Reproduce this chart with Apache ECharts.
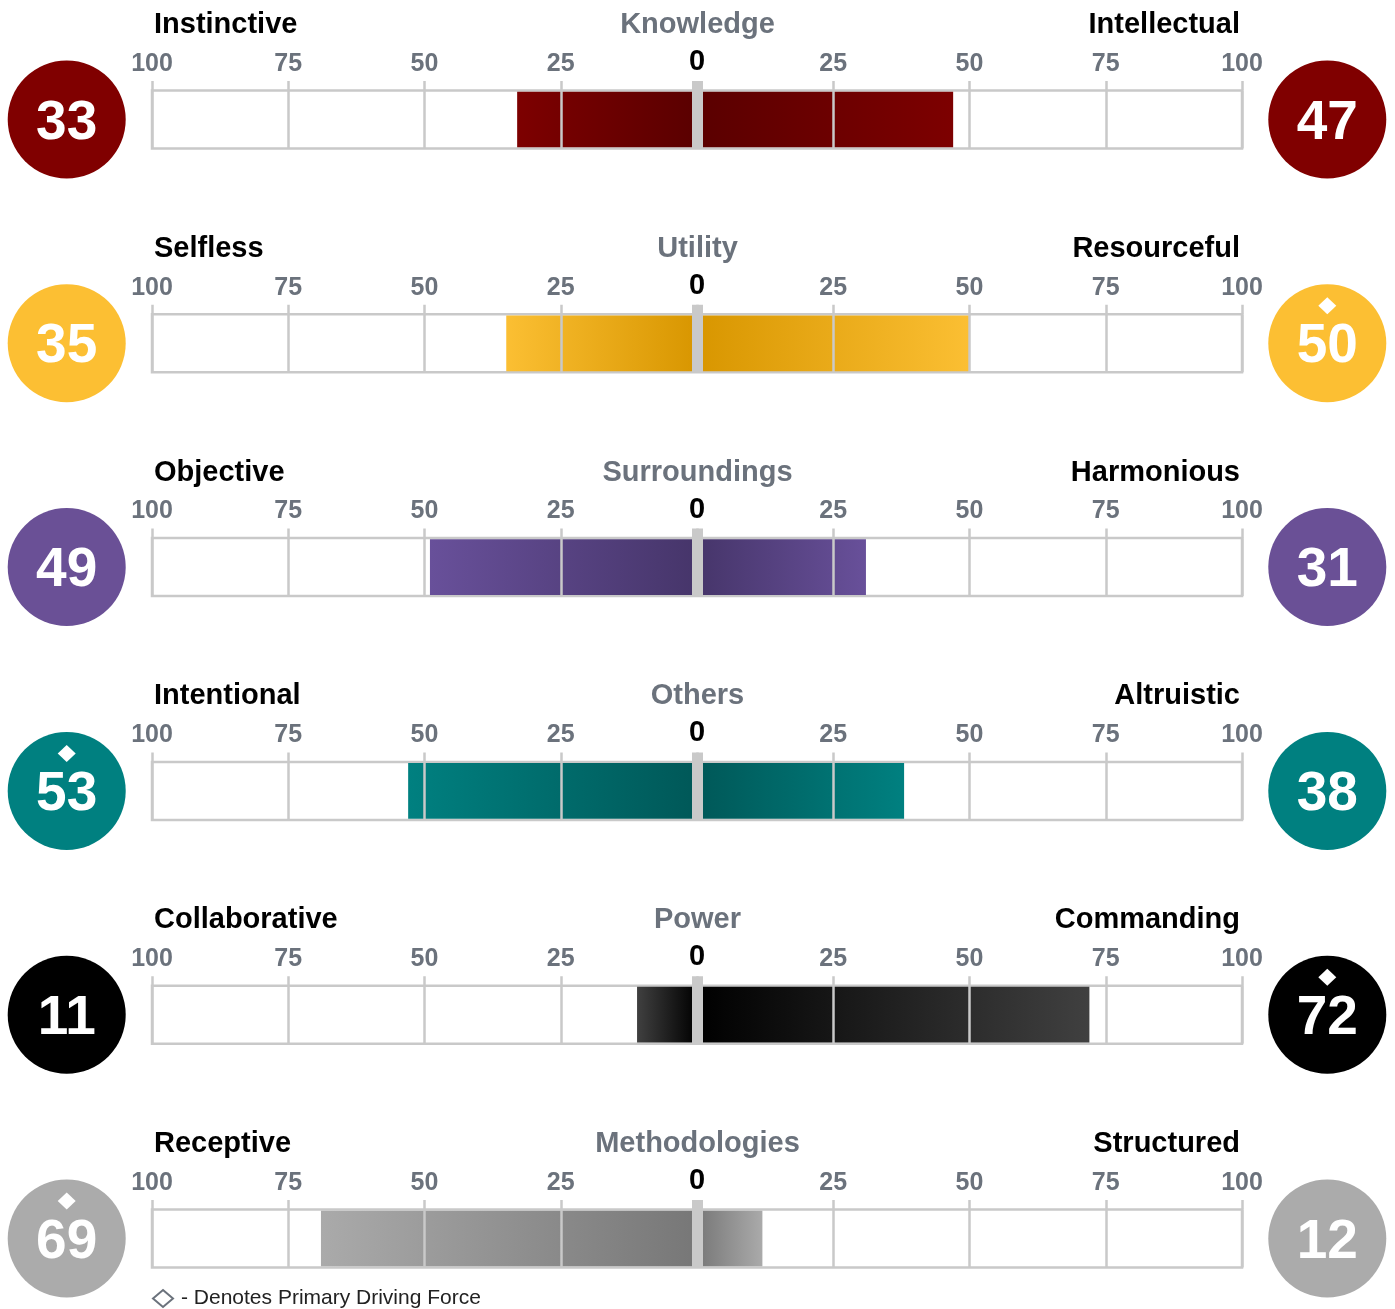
<!DOCTYPE html>
<html>
<head>
<meta charset="utf-8">
<script src="https://cdn.jsdelivr.net/npm/echarts@6/dist/echarts.min.js"></script>
<style>
html,body{margin:0;padding:0;background:#fff;}
#chart{width:1395px;height:1309px;}
</style>
</head>
<body>
<div id="chart"></div>
<script>
// ---- data ----
const rows = ['Knowledge', 'Utility', 'Surroundings', 'Others', 'Power', 'Methodologies'];
const leftLabels = ['Instinctive', 'Selfless', 'Objective', 'Intentional', 'Collaborative', 'Receptive'];
const rightLabels = ['Intellectual', 'Resourceful', 'Harmonious', 'Altruistic', 'Commanding', 'Structured'];
const leftValues = [33, 35, 49, 53, 11, 69];
const rightValues = [47, 50, 31, 38, 72, 12];
const primaryLeft = [false, false, false, true, false, true];
const primaryRight = [false, true, false, false, true, false];
const legendText = '- Denotes Primary Driving Force';

// ---- styles ----
const circleColors = ['#800000', '#fcbf33', '#6a5096', '#008080', '#000000', '#ababab'];
const barEdge = ['#7d0000', '#fbbf33', '#68509a', '#008080', '#404040', '#aaaaaa'];
const barCenter = ['#5a0000', '#d89600', '#46356a', '#005858', '#000000', '#777777'];
const FONT = '"Liberation Sans", Arial, Helvetica, sans-serif';
const LINE = '#c9c9c9';
const GRAY = '#6b727c';
const ROW_STEP = 223.8;
const CIRCLE_X = 115.65;

function grad(c0, c1) {
  return new echarts.graphic.LinearGradient(0, 0, 1, 0, [
    { offset: 0, color: c0 }, { offset: 1, color: c1 }
  ]);
}

const titles = [], grids = [], xAxes = [], yAxes = [], series = [];
rows.forEach((name, i) => {
  const off = ROW_STEP * i;
  const ts = { fontSize: 29, fontWeight: 'bold', fontFamily: FONT, color: '#000' };
  titles.push({ text: leftLabels[i], left: 154, top: 10.5 + off, padding: 0, textStyle: ts });
  titles.push({ text: name, left: 'center', top: 10.5 + off, padding: 0, textStyle: Object.assign({}, ts, { color: GRAY }) });
  titles.push({ text: rightLabels[i], right: 155, top: 10.5 + off, padding: 0, textStyle: ts });

  grids.push({ left: 152, right: 153, top: 90.5 + off, height: 58, show: true,
    borderColor: LINE, borderWidth: 2.5, backgroundColor: 'rgba(0,0,0,0)' });

  xAxes.push({
    gridIndex: i, type: 'value', min: -100, max: 100, interval: 25, position: 'top', z: 4,
    axisLine: { show: false },
    axisTick: { show: true, inside: false, length: 9.5, lineStyle: { color: LINE, width: 2.5 } },
    splitLine: { show: true, lineStyle: { color: LINE, width: 2.5 } },
    axisLabel: { margin: 14, fontSize: 25, fontWeight: 'bold', color: GRAY, fontFamily: FONT,
      formatter: v => (v === 0 ? '' : String(Math.abs(v))) }
  });
  xAxes.push({
    gridIndex: i, type: 'value', min: -100, max: 100, interval: 25, position: 'top', z: 6,
    axisLine: { show: false }, splitLine: { show: false },
    axisTick: { show: true, inside: false, customValues: [0], length: 9.5, lineStyle: { color: LINE, width: 11 } },
    axisLabel: { customValues: [0], margin: 14, fontSize: 29, fontWeight: 'bold', color: '#000', fontFamily: FONT,
      formatter: v => String(Math.abs(v)) }
  });
  yAxes.push({ gridIndex: i, type: 'category', data: [name], show: false });

  const xi = 2 * i;
  series.push({
    type: 'bar', xAxisIndex: xi, yAxisIndex: i, stack: 's' + i, barWidth: '96%', z: 2,
    data: [{ value: -leftValues[i], itemStyle: { color: grad(barEdge[i], barCenter[i]) } }],
    markLine: { silent: true, symbol: 'none', z: 5, label: { show: false },
      lineStyle: { color: LINE, width: 11, type: 'solid' }, data: [{ xAxis: 0 }] }
  });
  series.push({
    type: 'bar', xAxisIndex: xi, yAxisIndex: i, stack: 's' + i, barWidth: '96%', z: 2,
    data: [{ value: rightValues[i], itemStyle: { color: grad(barCenter[i], barEdge[i]) } }]
  });
  series.push({
    type: 'scatter', xAxisIndex: xi, yAxisIndex: i, symbol: 'circle', symbolSize: 118, clip: false, z: 3,
    itemStyle: { color: circleColors[i], opacity: 1 },
    label: { show: true, position: 'inside', offset: [0, 4], fontSize: 55, fontWeight: 'bold', color: '#fff', fontFamily: FONT,
      formatter: p => String(p.value[2]) },
    data: [[-CIRCLE_X, 0, leftValues[i]], [CIRCLE_X, 0, rightValues[i]]]
  });
  const dia = [];
  if (primaryLeft[i]) dia.push([-CIRCLE_X, 0]);
  if (primaryRight[i]) dia.push([CIRCLE_X, 0]);
  series.push({
    name: legendText, type: 'scatter', xAxisIndex: xi, yAxisIndex: i, symbol: 'diamond',
    symbolSize: [18, 17], symbolOffset: [0, -37.5], clip: false, z: 4,
    itemStyle: { color: '#fff', opacity: 1 }, data: dia
  });
});

const chart = echarts.init(document.getElementById('chart'), null, { renderer: 'canvas' });
chart.setOption({
  animation: false,
  backgroundColor: '#fff',
  title: titles,
  legend: {
    selectedMode: false, left: 152, top: 1288, padding: 0, itemWidth: 20, itemHeight: 17,
    data: [{ name: legendText, icon: 'diamond',
      itemStyle: { color: 'rgba(0,0,0,0)', borderColor: GRAY, borderWidth: 2 } }],
    textStyle: { fontSize: 21, color: '#222', fontFamily: FONT, padding: [0, 0, 0, 3] }
  },
  grid: grids,
  xAxis: xAxes,
  yAxis: yAxes,
  series: series
});
</script>
</body>
</html>
